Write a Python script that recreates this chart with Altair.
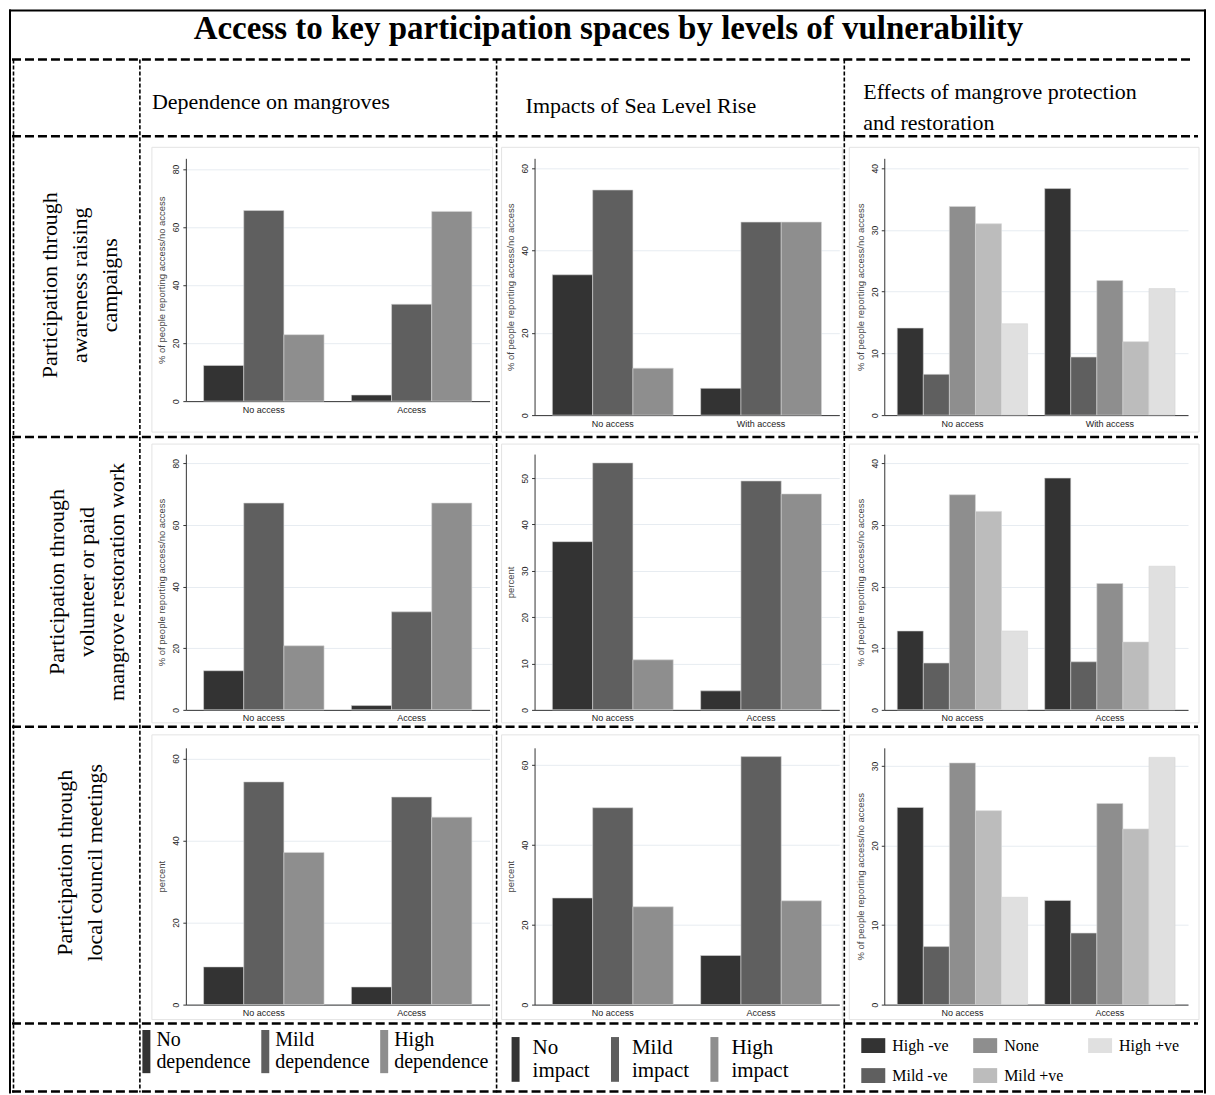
import altair as alt
import pandas as pd

SERIF = "Liberation Serif"
SANS = "Liberation Sans"

# ---------------- text ----------------
TITLE = "Access to key participation spaces by levels of vulnerability"
COL_HEADERS = ["Dependence on mangroves", "Impacts of Sea Level Rise",
               "Effects of mangrove protection\nand restoration"]
ROW_HEADERS = ["Participation through\nawareness raising\ncampaigns",
               "Participation through\nvolunteer or paid\nmangrove restoration work",
               "Participation through\nlocal council meetings"]
Y_TITLE_LONG = "% of people reporting access/no access"
Y_TITLE_SHORT = "percent"

# ---------------- categories ----------------
ACCESS = ["No access", "Access"]
WITH_ACCESS = ["No access", "With access"]
DEPENDENCE = ["No dependence", "Mild dependence", "High dependence"]
SLR_IMPACT = ["No impact", "Mild impact", "High impact"]
EFFECTS = ["High -ve", "Mild -ve", "None", "Mild +ve", "High +ve"]
EFFECTS_LEGEND_ORDER = ["High -ve", "None", "High +ve", "Mild -ve", "Mild +ve"]

GREYS3 = ["#333333", "#5f5f5f", "#8e8e8e"]
GREYS5 = ["#333333", "#5f5f5f", "#8e8e8e", "#bcbcbc", "#e0e0e0"]

# ---------------- values (% of people) ----------------
# awareness raising campaigns
aware_dep_no = [12.3, 65.7, 22.9]
aware_dep_yes = [2.1, 33.4, 65.4]
aware_slr_no = [34.1, 54.7, 11.4]
aware_slr_yes = [6.5, 46.9, 46.9]
aware_eff_no = [14.1, 6.6, 33.8, 31.0, 14.8]
aware_eff_yes = [36.7, 9.4, 21.8, 11.9, 20.5]
# volunteer or paid restoration work
work_dep_no = [12.7, 67.1, 20.8]
work_dep_yes = [1.4, 31.8, 67.1]
work_slr_no = [36.3, 53.3, 10.8]
work_slr_yes = [4.1, 49.4, 46.6]
work_eff_no = [12.8, 7.6, 34.9, 32.2, 12.8]
work_eff_yes = [37.6, 7.8, 20.5, 11.0, 23.3]
# local council meetings
council_dep_no = [9.2, 54.3, 37.1]
council_dep_yes = [4.3, 50.6, 45.7]
council_slr_no = [26.7, 49.3, 24.5]
council_slr_yes = [12.3, 62.1, 26.0]
council_eff_no = [24.8, 7.3, 30.4, 24.4, 13.5]
council_eff_yes = [13.1, 9.0, 25.3, 22.1, 31.1]

# y-axis tick labels
TICKS_0_80 = [0, 20, 40, 60, 80]
TICKS_0_60 = [0, 20, 40, 60]
TICKS_0_50 = [0, 10, 20, 30, 40, 50]
TICKS_0_40 = [0, 10, 20, 30, 40]
TICKS_0_30 = [0, 10, 20, 30]

PANELS = [
    [dict(cats=ACCESS, levels=DEPENDENCE, no=aware_dep_no, yes=aware_dep_yes, ymax=83.7, ticks=TICKS_0_80, yt=Y_TITLE_LONG),
     dict(cats=WITH_ACCESS, levels=SLR_IMPACT, no=aware_slr_no, yes=aware_slr_yes, ymax=62.4, ticks=TICKS_0_60, yt=Y_TITLE_LONG),
     dict(cats=WITH_ACCESS, levels=EFFECTS, no=aware_eff_no, yes=aware_eff_yes, ymax=41.6, ticks=TICKS_0_40, yt=Y_TITLE_LONG)],
    [dict(cats=ACCESS, levels=DEPENDENCE, no=work_dep_no, yes=work_dep_yes, ymax=83.0, ticks=TICKS_0_80, yt=Y_TITLE_LONG),
     dict(cats=ACCESS, levels=SLR_IMPACT, no=work_slr_no, yes=work_slr_yes, ymax=55.2, ticks=TICKS_0_50, yt=Y_TITLE_SHORT),
     dict(cats=ACCESS, levels=EFFECTS, no=work_eff_no, yes=work_eff_yes, ymax=41.5, ticks=TICKS_0_40, yt=Y_TITLE_LONG)],
    [dict(cats=ACCESS, levels=DEPENDENCE, no=council_dep_no, yes=council_dep_yes, ymax=62.6, ticks=TICKS_0_60, yt=Y_TITLE_SHORT),
     dict(cats=ACCESS, levels=SLR_IMPACT, no=council_slr_no, yes=council_slr_yes, ymax=64.3, ticks=TICKS_0_60, yt=Y_TITLE_SHORT),
     dict(cats=ACCESS, levels=EFFECTS, no=council_eff_no, yes=council_eff_yes, ymax=32.3, ticks=TICKS_0_30, yt=Y_TITLE_LONG)],
]

# ---------------- layout (reference page pixels) ----------------
ORIGIN = (7, 7)
GRID_X = [7, 184, 533, 883, 1205]          # column starts of the flush grid
GRID_Y = [7, 156, 452, 746, 1092]          # row starts of the flush grid
PLOT_W = [304, 305, 304]
PLOT_H = [[243, 257, 257], [256, 256, 256], [257, 257, 257]]
FRAME_X = [(150, 491), (500, 841), (848, 1198)]
FRAME_Y = [(145, 430), (442, 721), (733, 1018)]
SEP_Y = [57, 134, 435, 725, 1022]          # dashed horizontal separators
SEP_X = [138, 495, 843]                    # dashed vertical separators
BOTTOM_Y = 1090
RIGHT_X = 1205


def one_row():
    return alt.Data(values=[{"k": 0}])


def rel(x, y):
    return x - ORIGIN[0], y - ORIGIN[1]


def rect_px(x0, x1, y0, y1, **kw):
    return alt.Chart(one_row()).mark_rect(**kw).encode(
        x=alt.value(x0), x2=alt.value(x1), y=alt.value(y0), y2=alt.value(y1))


def hrule(x0, x1, y, dash=True, width=2.5):
    kw = dict(color="black", strokeWidth=width)
    if dash:
        kw["strokeDash"] = [9, 4]
    return alt.Chart(one_row()).mark_rule(**kw).encode(
        x=alt.value(x0), x2=alt.value(x1), y=alt.value(y))


def vrule(x, y0, y1, dash=True, width=1.6):
    kw = dict(color="black", strokeWidth=width)
    if dash:
        kw["strokeDash"] = [4, 2]
    return alt.Chart(one_row()).mark_rule(**kw).encode(
        x=alt.value(x), y=alt.value(y0), y2=alt.value(y1))


def text_layer(txt, x, y, size, align="left", baseline="alphabetic", angle=0,
               weight="normal", line_height=30):
    return alt.Chart(alt.Data(values=[{"t": txt}])).mark_text(
        font=SERIF, fontSize=size, fontWeight=weight, align=align, baseline=baseline,
        angle=angle, lineBreak="\n", lineHeight=line_height, color="black"
    ).encode(x=alt.value(x), y=alt.value(y), text="t:N")


def spacer(w, h):
    return rect_px(0, w, 0, h, opacity=0).properties(width=w, height=h)


# ---------------- top-left cell carries the table frame and all headings ----------------
def frame_cell():
    w = GRID_X[1] - GRID_X[0]
    h = GRID_Y[1] - GRID_Y[0]
    L, T = rel(ORIGIN[0], ORIGIN[1])
    R, _ = rel(RIGHT_X, 0)
    _, B = rel(0, BOTTOM_Y)
    layers = [rect_px(0, w, 0, h, opacity=0)]
    # title
    tx, ty = rel(607, 37)
    layers.append(text_layer(TITLE, tx, ty, 33, align="center", weight="bold"))
    # column headings
    for txt, (hx, hy) in zip(COL_HEADERS, [(150, 107), (524, 111), (862, 97)]):
        x, y = rel(hx, hy)
        layers.append(text_layer(txt, x, y, 22, line_height=31))
    # row headings (first line position, lines continue to the right)
    for txt, (hx, hy) in zip(ROW_HEADERS, [(48, 283), (55, 580), (63, 861)]):
        x, y = rel(hx, hy)
        layers.append(text_layer(txt, x, y, 22, align="center", baseline="middle",
                                 angle=270, line_height=30))
    # outer frame
    layers.append(hrule(L, R, 1, dash=False, width=2))
    layers.append(vrule(1, 0, B + 2, dash=False, width=2))
    layers.append(vrule(R - 1, 0, B + 2, dash=False, width=2))
    # separators
    for i, sy in enumerate(SEP_Y):
        _, y = rel(0, sy)
        layers.append(hrule(3, R - (12 if i == 0 else 8), y))
    layers.append(hrule(3, R - 2, B))
    _, ytop = rel(0, SEP_Y[0])
    layers.append(vrule(4.5, ytop, B + 1))
    for sx in SEP_X:
        x, _ = rel(sx, 0)
        layers.append(vrule(x, ytop, B + 1))
    return alt.layer(*layers).properties(width=w, height=h)


def legend_for(c, px0, py0):
    if c == 0:
        return alt.Legend(orient="none", legendX=130 - px0, legendY=1028 - py0,
                          direction="horizontal", title=None,
                          symbolType="M-1,-2.5H1V8.3H-1Z", symbolSize=64,
                          symbolOffset=4.5, symbolStrokeWidth=0, symbolOpacity=1,
                          labelExpr="split(datum.label, ' ')", labelFont=SERIF,
                          labelFontSize=20, labelColor="black", labelOffset=0,
                          columnPadding=0, labelBaseline="middle")
    if c == 1:
        return alt.Legend(orient="none", legendX=503.5 - px0, legendY=1035.5 - py0,
                          direction="horizontal", title=None,
                          symbolType="M-1,-2.7H1V8.5H-1Z", symbolSize=64,
                          symbolStrokeWidth=0, symbolOpacity=1,
                          labelExpr="split(datum.label, ' ')", labelFont=SERIF,
                          labelFontSize=21, labelColor="black", labelOffset=6.5,
                          columnPadding=14.5, labelBaseline="middle")
    return alt.Legend(orient="none", legendX=860 - px0, legendY=1032 - py0,
                      direction="horizontal", columns=3, values=EFFECTS_LEGEND_ORDER,
                      title=None, symbolType="M-1,-0.62H1V0.62H-1Z", symbolSize=576,
                      symbolStrokeWidth=0, symbolOpacity=1, labelFont=SERIF,
                      labelFontSize=16, labelColor="black", labelOffset=7,
                      columnPadding=24, rowPadding=10, labelBaseline="middle")


def panel_cell(r, c):
    p = PANELS[r][c]
    px0, py0 = GRID_X[c + 1], GRID_Y[r + 1]
    w, h = PLOT_W[c], PLOT_H[r][c]
    fx0, fx1 = FRAME_X[c]
    fy0, fy1 = FRAME_Y[r]

    levels = p["levels"]
    n = len(levels)
    df = pd.DataFrame({
        "access": [p["cats"][0]] * n + [p["cats"][1]] * n,
        "level": levels + levels,
        "value": p["no"] + p["yes"],
    })
    colors = GREYS5 if n == 5 else GREYS3
    pin, pout = (0.116, 0.088) if n == 5 else (0.185, 0.12)
    legend = legend_for(c, px0, py0) if r == 2 else None

    bars = alt.Chart(df).mark_bar(stroke="#d5d5d5", strokeWidth=0.6).encode(
        x=alt.X("access:N", sort=p["cats"],
                scale=alt.Scale(paddingInner=pin, paddingOuter=pout),
                axis=alt.Axis(title=None, labelAngle=0, ticks=False, grid=False,
                              domainColor="#333333", labelFont=SANS, labelFontSize=9,
                              labelColor="#222222", labelPadding=4)),
        xOffset=alt.XOffset("level:N", sort=levels,
                            scale=alt.Scale(paddingInner=0, paddingOuter=0)),
        y=alt.Y("value:Q", scale=alt.Scale(domain=[0, p["ymax"]], nice=False, zero=True),
                axis=alt.Axis(values=p["ticks"], title=p["yt"], labelAngle=-90,
                              labelAlign="center", labelBaseline="bottom",
                              labelFont=SANS, labelFontSize=8.5, labelColor="#222222",
                              labelPadding=2, tickSize=3, tickColor="#333333",
                              domainColor="#333333", grid=True, gridColor="#e7ecf1",
                              titleFont=SANS, titleFontSize=9.5, titleFontWeight="normal",
                              titleColor="#444444", titlePadding=5)),
        color=alt.Color("level:N", sort=levels,
                        scale=alt.Scale(domain=levels, range=colors), legend=legend),
    )
    frame = rect_px(fx0 - px0, fx1 - px0, fy0 - py0, fy1 - py0,
                    fillOpacity=0, stroke="#e3e3e3", strokeWidth=1)
    return alt.layer(frame, bars).properties(width=w, height=h)


cells = [frame_cell()]
for c in range(3):
    cells.append(spacer(GRID_X[c + 2] - GRID_X[c + 1], GRID_Y[1] - GRID_Y[0]))
for r in range(3):
    cells.append(spacer(GRID_X[1] - GRID_X[0], GRID_Y[r + 2] - GRID_Y[r + 1]))
    for c in range(3):
        cells.append(panel_cell(r, c))

chart = alt.concat(*cells, columns=4, spacing=0, bounds="flush", align="each").resolve_scale(
    color="independent", xOffset="independent"
).properties(padding=0, background="white").configure_view(strokeWidth=0)

chart.save("out.html", embed_options={"renderer": "svg", "actions": False})
